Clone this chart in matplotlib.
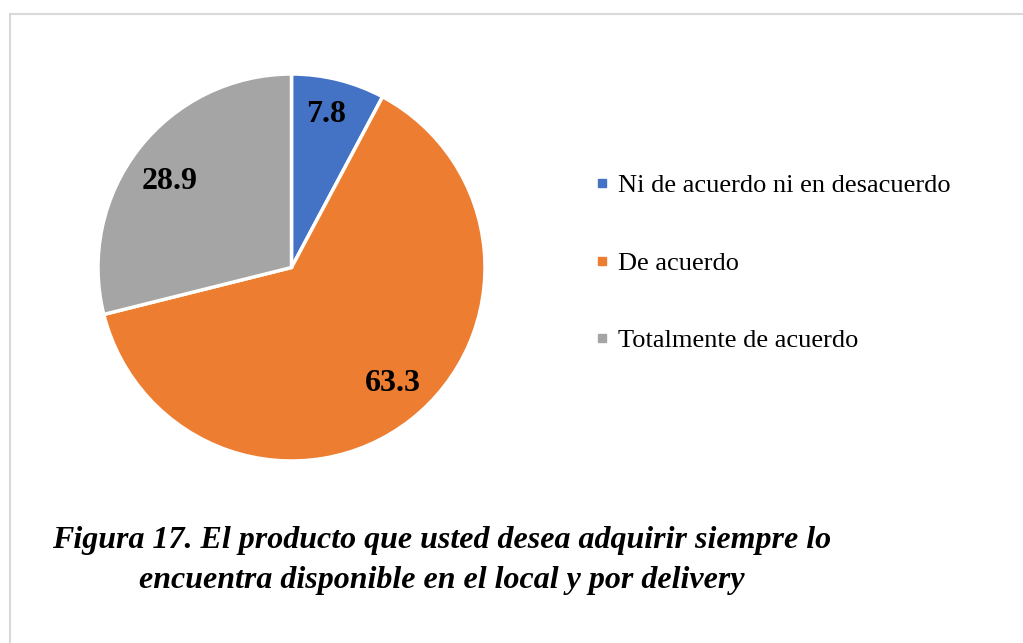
import numpy as np
import matplotlib.pyplot as plt
from matplotlib.lines import Line2D

## DATA
#
categorias = ["Ni de acuerdo ni en desacuerdo", "De acuerdo", "Totalmente de acuerdo"]
valores = [7.8, 63.3, 28.9]
colores = ["#4472C4", "#ED7D31", "#A5A5A5"]
titulo = ("Figura 17. El producto que usted desea adquirir siempre lo\n"
          "encuentra disponible en el local y por delivery")

# label placement (radius as fraction of pie radius, angle shift in degrees)
radio_etq = [0.83, 0.78, 0.78]
giro_etq = [1.5, 4.0, 1.8]

plt.rcParams['font.family'] = ['Liberation Serif', 'DejaVu Serif']

fig = plt.figure(figsize=(10.23, 6.43), dpi=100)

# light frame, only top and left edges are visible in the original
fig.add_artist(Line2D([10/1023, 1.0], [1 - 14/643, 1 - 14/643], color="#D9D9D9", lw=1.5))
fig.add_artist(Line2D([10/1023, 10/1023], [0.0, 1 - 14/643], color="#D9D9D9", lw=1.5))

# pie axes: center at (291.5, 267.5) px, radius 193.5 px
ax = fig.add_axes([98/1023, 182/643, 387/1023, 387/643])
wedges, textos, pct = ax.pie(valores, colors=colores, startangle=90, counterclock=False,
                             autopct=lambda p: f"{p:.1f}", pctdistance=0.79,
                             wedgeprops=dict(edgecolor="white", linewidth=2.5),
                             textprops=dict(fontsize=23, fontweight="bold", color="black"))
for w, t, r, g in zip(wedges, pct, radio_etq, giro_etq):
    ang = np.deg2rad((w.theta1 + w.theta2) / 2 + g)
    t.set_position((r * np.cos(ang), r * np.sin(ang)))
    t.set_va("center_baseline")
ax.set_xlim(-1, 1)
ax.set_ylim(-1, 1)
ax.set_aspect("equal")

# legend
handles = [Line2D([], [], marker="s", linestyle="", markersize=6, color=c) for c in colores]
fig.legend(handles, categorias, loc="center left", bbox_to_anchor=(582/1023, 1 - 263/643),
           frameon=False, fontsize=19, labelspacing=2.05, handlelength=0.5,
           handletextpad=0.35, borderpad=0)

# caption
fig.text(442/1023, 1 - 560.5/643, titulo, ha="center", va="center", fontsize=23,
         fontweight="bold", fontstyle="italic", linespacing=1.53)

plt.savefig("out.png", dpi=100)
